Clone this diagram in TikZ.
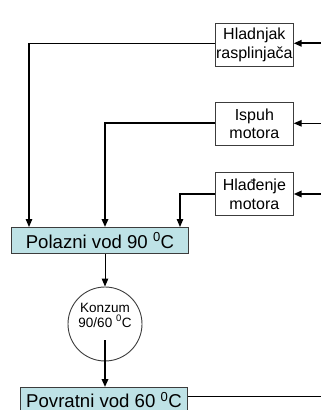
\documentclass[tikz,border=0pt]{standalone}
\usepackage{fontspec}
\setmainfont{Liberation Sans}
\usetikzlibrary{arrows.meta}
\definecolor{cyanfill}{RGB}{190,226,230}
\definecolor{edge}{RGB}{60,60,60}
\begin{document}
\begin{tikzpicture}[x=1pt,y=-1pt,
  box/.style={draw=edge, line width=1pt, fill=white, inner sep=0pt, align=center,
    font=\fontsize{16}{18.4}\selectfont, anchor=north west,
    minimum width=77.7pt, minimum height=43pt},
  bar/.style={draw=edge, line width=1pt, fill=cyanfill, inner sep=0pt,
    font=\fontsize{18.6}{20}\selectfont, anchor=north west, minimum height=26pt},
  conn/.style={line width=1.2pt, draw=black},
  arr/.style={conn, -{Triangle[length=8pt,width=6.5pt]}},
  heavy/.style={line width=1.8pt}]
\fill[white] (0,0) rectangle (321,410);
\clip (0,0) rectangle (321,410);

% source boxes
\node[box] (hr) at (215,23) {Hladnjak\\rasplinjača};
\node[box] (im) at (215,101.7) {Ispuh\\motora};
\node[box] (hm) at (215,172.3) {Hlađenje\\motora};

% headers
\node[bar, minimum width=177pt] (pol) at (11,227) {Polazni vod 90 \textsuperscript{0}C};
\node[bar, minimum width=167pt, minimum height=24.5pt] (pov) at (20,387) {Povratni vod 60 \textsuperscript{0}C};

% consumer
\node[circle, draw=edge, line width=0.9pt, minimum size=74pt, inner sep=0pt,
  align=center, font=\fontsize{13.5}{15}\selectfont] (kon) at (105,324)
  {Konzum\\90/60 \textsuperscript{0}C\\[3pt]};

% free ends
\coordinate (r1) at (321,43.3);
\coordinate (r2) at (321,123.3);
\coordinate (r3) at (321,194);
\coordinate (r4) at (321,396.5);
\coordinate (d1) at (29,227);
\coordinate (d2) at (105,227);
\coordinate (d3) at (180,227);
\coordinate (k1) at (105,340);

% incoming from the right
\draw[arr, heavy] (r1) -- (r1 -| hr.east);
\draw[arr] (r2) -- (r2 -| im.east);
\draw[arr, heavy] (r3) -- (r3 -| hm.east);

% to the supply header
\draw[arr] (r1 -| hr.west) -| (d1);
\draw[arr, heavy] (r2 -| im.west) -| (d2);
\draw[arr] (r3 -| hm.west) -| (d3);

% supply -> consumer -> return
\draw[arr, line width=1pt] (kon.north |- pol.south) -- (kon.north);
\draw[arr, heavy] (k1) -- (k1 |- pov.north);
\draw[conn, heavy] (r4 -| pov.east) -- (r4);
\end{tikzpicture}
\end{document}
